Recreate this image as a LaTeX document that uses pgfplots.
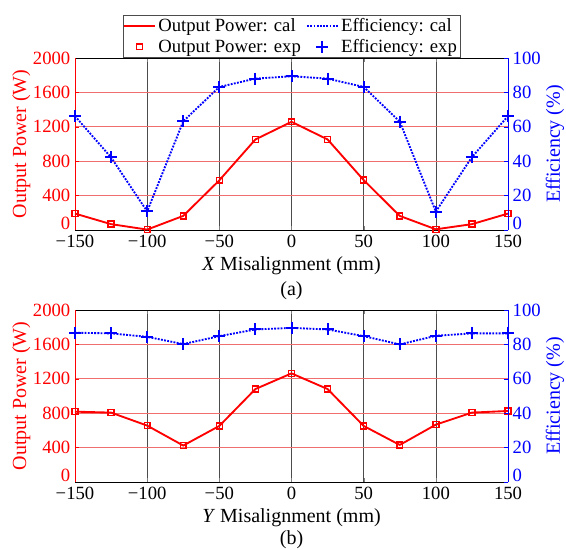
\documentclass[border=0pt]{standalone}
\usepackage{fontspec}
\setmainfont{Liberation Serif}
\usepackage{pgfplots}
\pgfplotsset{compat=1.18}

% X misalignment
\pgfplotstableread{
x    p     e
-150 191  66.2
-125  68  42.2
-100   5  10.8
-75  164  63.2
-50  578  83.2
-25 1053  88.0
0   1258  89.4
25  1053  88.0
50   580  83.2
75   164  63.0
100    8  10.7
125   68  42.4
150  191  66.2
}\datax

% Y misalignment
\pgfplotstableread{
x    p     e
-150 818  86.8
-125 807  86.4
-100 656  84.4
-75  424  80.2
-50  652  84.8
-25 1081  88.7
0   1263  89.6
25  1081  88.7
50   652  84.8
75   431  80.0
100  667  85.0
125  807  86.4
150  826  86.4
}\datay

\definecolor{gridred}{RGB}{240,110,110}
\newcommand{\zerolab}{\raisebox{5pt}[0.66em][0pt]{0}}

\pgfplotsset{
  base/.style={
    scale only axis, width=324.75pt, height=129pt,
    xmin=-150, xmax=150, xtick={-150,-100,...,150},
    xticklabels={−150,−100,−50,0,50,100,150},
    tick label style={font=\fontsize{14}{16}\selectfont},
    label style={font=\fontsize{15}{17}\selectfont},
    /pgf/number format/assume math mode=true,
    /pgf/number format/1000 sep={},
    major tick length=3pt,
    clip=false,
  },
  pw/.style={base,
    ymin=0, ymax=2000, ytick={0,400,...,2000},
    yticklabels={\zerolab,400,800,1200,1600,2000},
    axis y line*=left,
    axis x line*=box,
    ylabel={Output Power (W)}, ylabel style={text=red},
    yticklabel style={text=red},
    y axis line style={red}, ytick style={red},
    xmajorgrids, ymajorgrids,
    x grid style={black!70, line width=0.4pt},
    y grid style={gridred, line width=0.5pt},
    ylabel shift=-5pt,
  },
  ef/.style={base,
    ymin=0, ymax=100, ytick={0,20,...,100},
    yticklabels={\zerolab,20,40,60,80,100},
    axis y line*=right, axis x line=none,
    ylabel={Efficiency (\%)}, ylabel style={text=blue},
    yticklabel style={text=blue},
    y axis line style={blue}, ytick style={blue},
    ylabel shift=-3pt,
  },
  pline/.style={red, line width=1.4pt, mark=square, mark size=2.2pt,
    mark options={solid, line width=1.1pt}},
  eline/.style={blue, line width=1.4pt, densely dotted, mark=+, mark size=4.5pt,
    mark options={solid, line width=1.5pt}},
}

\begin{document}
\begin{tikzpicture}
\path[use as bounding box] (0,0) rectangle (424.5pt,-411.75pt);

% ---- (a)
\begin{axis}[pw, at={(56.25pt,-172.5pt)}, anchor=south west,
  xlabel={\textit{X} Misalignment (mm)},
  legend columns=2,
  legend style={at={(0.5,1.0)}, anchor=south, draw=black!70,
    font=\fontsize{14}{16}\selectfont, inner sep=0.5pt,
    /tikz/every even column/.append style={column sep=2pt}},
  legend cell align=left,
  legend image code/.code={\draw[mark repeat=2,mark phase=2,#1]
    plot coordinates {(0cm,0cm) (0.4cm,0cm) (0.8cm,0cm)};},
  ]
  \addlegendimage{red, line width=1.4pt}
  \addlegendentry{Output Power: cal}
  \addlegendimage{blue, line width=1.4pt, densely dotted}
  \addlegendentry{Efficiency: cal}
  \addlegendimage{only marks, red, mark=square, mark size=2.2pt, line width=1.1pt}
  \addlegendentry{Output Power: exp}
  \addlegendimage{only marks, blue, mark=+, mark size=4.5pt, line width=1.5pt}
  \addlegendentry{Efficiency: exp}
  \addplot[pline] table[x=x, y=p] {\datax};
  \node[font=\fontsize{15}{17}\selectfont] at (rel axis cs:0.5,-0.35) {(a)};
\end{axis}
\begin{axis}[ef, at={(56.25pt,-172.5pt)}, anchor=south west]
  \addplot[eline] table[x=x, y=e] {\datax};
\end{axis}

% ---- (b)
\begin{axis}[pw, at={(56.25pt,-361.5pt)}, anchor=south west,
  xlabel={\textit{Y} Misalignment (mm)}]
  \addplot[pline] table[x=x, y=p] {\datay};
  \node[font=\fontsize{15}{17}\selectfont, inner sep=1pt] at (rel axis cs:0.5,-0.335) {(b)};
\end{axis}
\begin{axis}[ef, at={(56.25pt,-361.5pt)}, anchor=south west]
  \addplot[eline] table[x=x, y=e] {\datay};
\end{axis}
\end{tikzpicture}
\end{document}
